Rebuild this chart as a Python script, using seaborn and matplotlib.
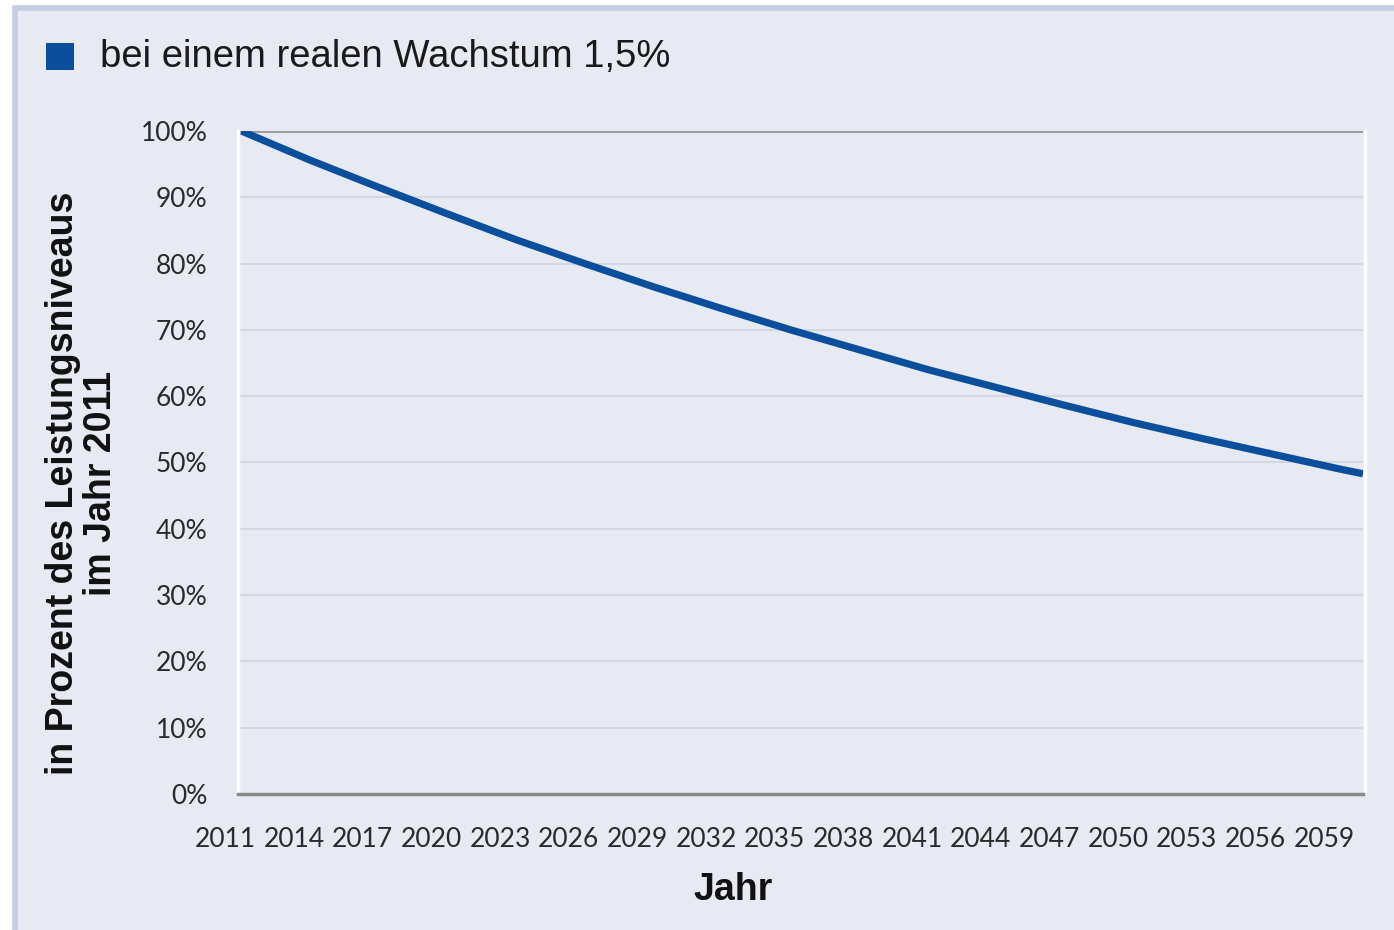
import pandas as pd
import seaborn as sns
import matplotlib.pyplot as plt
from matplotlib.patches import Rectangle
from matplotlib.ticker import FixedLocator, FuncFormatter
from matplotlib.transforms import ScaledTranslation

years = [2011, 2014, 2017, 2020, 2023, 2026, 2029, 2032, 2035, 2038,
         2041, 2044, 2047, 2050, 2053, 2056, 2059, 2060]
niveau = [100.0, 95.6, 91.5, 87.5, 83.6, 80.0, 76.5, 73.2, 70.0, 67.0,
          64.0, 61.3, 58.6, 56.0, 53.6, 51.3, 49.0, 48.3]
tick_years = list(range(2011, 2060, 3))
y_ticks = list(range(0, 101, 10))

bg = "#e8eaf3"
blue = "#0a4e9c"

sns.set_style("white")
plt.rcParams['font.family'] = ['Lato', 'DejaVu Sans']

fig = plt.figure(figsize=(13.94, 9.30), dpi=100, facecolor="white")
fig.patches.append(Rectangle((15 / 1394, -0.01), 1.02, 1 - 8 / 930 + 0.01,
                             transform=fig.transFigure, facecolor=bg,
                             edgecolor="#c5cce3", linewidth=4, zorder=-5))

ax = fig.add_axes([238 / 1394, 1 - 794 / 930, (1363 - 238) / 1394, (794 - 131) / 930])
ax.set_facecolor(bg)

df = pd.DataFrame({"Jahr": years, "Wert": niveau})
sns.lineplot(data=df, x="Jahr", y="Wert", ax=ax, color=blue, linewidth=5.2,
             legend=False, solid_capstyle="butt")

ax.set_xlim(2010.85, 2060)
ax.set_ylim(0, 100)

ax.yaxis.set_major_locator(FixedLocator(y_ticks))
ax.yaxis.set_major_formatter(FuncFormatter(lambda v, p: f"{int(v)}%"))
ax.xaxis.set_major_locator(FixedLocator(tick_years))
ax.grid(axis="y", color="#d2d5de", linewidth=1.3)
ax.tick_params(axis="both", length=0, labelsize=19, labelcolor="#2a2a2a")
ax.tick_params(axis="y", pad=22)
ax.tick_params(axis="x", pad=24)
for lab in ax.get_xticklabels():
    lab.set_transform(lab.get_transform() + ScaledTranslation(-0.16, 0, fig.dpi_scale_trans))

ax.axhline(100, color="#9a9a9a", linewidth=2, zorder=1)
for side in ["top", "right"]:
    ax.spines[side].set_visible(False)
ax.spines["left"].set_color("white")
ax.spines["left"].set_linewidth(2.5)
ax.spines["bottom"].set_color("#8a8a8a")
ax.spines["bottom"].set_linewidth(2.5)
ax.axvline(2060.08, color="white", linewidth=2.5, clip_on=False)

ax.set_xlabel("Jahr", fontsize=27, fontweight="bold", family="Liberation Sans",
              color="#111111", va="center")
ax.xaxis.set_label_coords((733 - 238) / 1125, -(890 - 794) / 663)
ax.set_ylabel("in Prozent des Leistungsniveaus\nim Jahr 2011", fontsize=27,
              fontweight="bold", family="Liberation Sans", color="#111111",
              linespacing=1.1, va="center")
ax.yaxis.set_label_coords((82 - 238) / 1125, (794 - 483) / 663)

fig.patches.append(Rectangle((46 / 1394, 1 - 70 / 930), 28 / 1394, 27 / 930,
                             transform=fig.transFigure, facecolor=blue,
                             edgecolor="none"))
fig.text(100 / 1394, 1 - 57 / 930, "bei einem realen Wachstum 1,5%",
         fontsize=27.5, family="Liberation Sans", va="center", ha="left",
         color="#1a1a1a")

plt.savefig("out.png", dpi=100, facecolor=fig.get_facecolor())
